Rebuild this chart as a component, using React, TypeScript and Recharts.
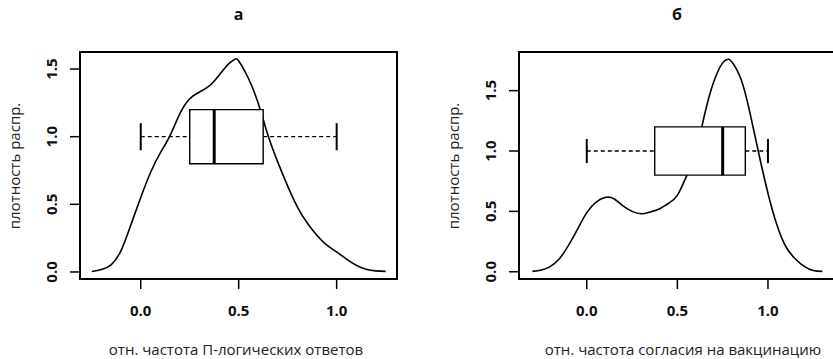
import React from 'react';
import { LineChart, Line, XAxis, YAxis, ReferenceArea, ReferenceLine } from 'recharts';

// ---- data ----
const leftX = [-0.25, -0.2, -0.15, -0.1, -0.05, 0, 0.05, 0.1, 0.15, 0.2, 0.25, 0.3, 0.35, 0.4, 0.45, 0.48, 0.5, 0.55, 0.6, 0.65, 0.7, 0.75, 0.8, 0.85, 0.9, 0.95, 1.0, 1.05, 1.1, 1.15, 1.2, 1.25];
const leftDensity = [0.004, 0.018, 0.055, 0.16, 0.35, 0.55, 0.735, 0.88, 1.01, 1.17, 1.28, 1.33, 1.375, 1.455, 1.54, 1.572, 1.56, 1.43, 1.245, 1.008, 0.81, 0.635, 0.48, 0.362, 0.27, 0.198, 0.148, 0.095, 0.05, 0.02, 0.008, 0.004];

const rightX = [-0.3, -0.25, -0.2, -0.15, -0.1, -0.05, 0, 0.05, 0.1, 0.15, 0.2, 0.25, 0.3, 0.35, 0.4, 0.45, 0.5, 0.55, 0.6, 0.65, 0.7, 0.75, 0.78, 0.8, 0.85, 0.9, 0.95, 1.0, 1.05, 1.1, 1.15, 1.2, 1.25, 1.3];
const rightDensity = [0.003, 0.015, 0.045, 0.11, 0.22, 0.355, 0.49, 0.575, 0.615, 0.605, 0.545, 0.5, 0.48, 0.495, 0.52, 0.565, 0.633, 0.79, 0.98, 1.3, 1.57, 1.73, 1.76, 1.74, 1.6, 1.32, 0.975, 0.65, 0.385, 0.205, 0.108, 0.045, 0.011, 0.003];

// boxplot stats: [min, q1, median, q3, max]
const leftBoxStats = [0, 0.25, 0.375, 0.625, 1];
const rightBoxStats = [0, 0.375, 0.75, 0.875, 1];

const xTicks = [0, 0.5, 1];
const yTicks = [0, 0.5, 1, 1.5];
const xTickLabels = ['0.0', '0.5', '1.0'];
const yTickLabels = ['0.0', '0.5', '1.0', '1.5'];

const titles = ['а', 'б'];
const xTitles = ['отн. частота П-логических ответов', 'отн. частота согласия на вакцинацию'];
const yTitle = 'плотность распр.';

const FONT = '"Open Sans", "Noto Sans", sans-serif';

const fmtX = (v: number) => xTickLabels[xTicks.indexOf(v)] ?? String(v);
const fmtY = (v: number) => yTickLabels[yTicks.indexOf(v)] ?? String(v);

const XTick = (props: any) => {
  const { x, y, payload } = props;
  return (
    <text x={x} y={y} dy={19} textAnchor="middle" dominantBaseline="central"
      fontFamily={FONT} fontWeight={700} fontSize={15} fill="#111">
      {fmtX(payload.value)}
    </text>
  );
};

const YTick = (props: any) => {
  const { x, y, payload } = props;
  const cx = x - 16.5;
  return (
    <text x={cx} y={y} textAnchor="middle" dominantBaseline="central"
      transform={`rotate(-90 ${cx} ${y})`}
      fontFamily={FONT} fontWeight={700} fontSize={15} fill="#111">
      {fmtY(payload.value)}
    </text>
  );
};

type PanelProps = {
  xs: number[];
  ds: number[];
  box: number[];
  xDomain: [number, number];
  yDomain: [number, number];
  left: number;
  width: number;
  yAxisWidth: number;
  marginRight: number;
  title: string;
  xTitle: string;
  xTitleCenter: number;
};

const PLOT_TOP = 52;
const PLOT_BOTTOM = 279;
const H = 359;

const Panel = (p: PanelProps) => {
  const data = p.xs.map((x, i) => ({ x, d: p.ds[i] }));
  const [mn, q1, med, q3, mx] = p.box;
  const plotLeft = p.left + p.yAxisWidth;
  const plotRight = p.left + p.width - p.marginRight;
  const plotCenter = (plotLeft + Math.min(plotRight, 835)) / 2;
  return (
    <>
      <div style={{ position: 'absolute', left: p.left, top: 0 }}>
        <LineChart width={p.width} height={H} data={data}
          margin={{ top: PLOT_TOP, right: p.marginRight, bottom: 0, left: 0 }}>
          <XAxis dataKey="x" type="number" domain={p.xDomain} ticks={xTicks}
            allowDataOverflow axisLine={false} tickSize={10}
            tickLine={{ stroke: '#000', strokeWidth: 1.5 }} tick={<XTick />}
            height={H - PLOT_BOTTOM} />
          <YAxis type="number" domain={p.yDomain} ticks={yTicks} allowDataOverflow
            axisLine={false} tickSize={10} width={p.yAxisWidth}
            tickLine={{ stroke: '#000', strokeWidth: 1.5 }} tick={<YTick />} />
          <Line dataKey="d" type="natural" stroke="#000" strokeWidth={1.6} dot={false}
            isAnimationActive={false} />
          {/* whiskers */}
          <ReferenceLine segment={[{ x: mn, y: 1 }, { x: q1, y: 1 }]} stroke="#000"
            strokeWidth={1.3} strokeDasharray="4 3" zIndex={1500} />
          <ReferenceLine segment={[{ x: q3, y: 1 }, { x: mx, y: 1 }]} stroke="#000"
            strokeWidth={1.3} strokeDasharray="4 3" zIndex={1500} />
          <ReferenceLine segment={[{ x: mn, y: 0.9 }, { x: mn, y: 1.1 }]} stroke="#000"
            strokeWidth={2} zIndex={1500} />
          <ReferenceLine segment={[{ x: mx, y: 0.9 }, { x: mx, y: 1.1 }]} stroke="#000"
            strokeWidth={2} zIndex={1500} />
          {/* box */}
          <ReferenceArea x1={q1} x2={q3} y1={0.8} y2={1.2} fill="#fff" fillOpacity={1}
            stroke="#000" strokeWidth={1.4} zIndex={1600} />
          <ReferenceLine segment={[{ x: med, y: 0.8 }, { x: med, y: 1.2 }]} stroke="#000"
            strokeWidth={3} zIndex={1700} />
          {/* frame */}
          <ReferenceArea x1={p.xDomain[0]} x2={p.xDomain[1]} y1={p.yDomain[0]} y2={p.yDomain[1]}
            fill="none" fillOpacity={0} stroke="#000" strokeWidth={2} zIndex={1800} />
        </LineChart>
      </div>
      <div style={{ position: 'absolute', left: plotCenter - 50, width: 100, top: 3,
        textAlign: 'center', fontFamily: FONT, fontWeight: 700, fontSize: 16, lineHeight: '22px', color: '#111' }}>
        {p.title}
      </div>
      <div style={{ position: 'absolute', left: p.xTitleCenter - 200, width: 400, top: 338,
        textAlign: 'center', fontFamily: FONT, fontSize: 15, lineHeight: '22px', color: '#222', whiteSpace: 'nowrap' }}>
        {p.xTitle}
      </div>
      <div style={{ position: 'absolute', left: plotLeft - 66 - 100, width: 200, top: 154.5,
        textAlign: 'center', fontFamily: FONT, fontSize: 15, lineHeight: '22px', color: '#222',
        transform: 'rotate(-90deg)', whiteSpace: 'nowrap' }}>
        {yTitle}
      </div>
    </>
  );
};

export default function App() {
  return (
    <div style={{ position: 'absolute', left: 0, top: 0, width: 833, height: 359, overflow: 'hidden', background: '#fff' }}>
      <Panel xs={leftX} ds={leftDensity} box={leftBoxStats}
        xDomain={[-0.31, 1.308]} yDomain={[-0.052, 1.626]}
        left={0} width={407} yAxisWidth={80} marginRight={10}
        title={titles[0]} xTitle={xTitles[0]} xTitleCenter={236} />
      <Panel xs={rightX} ds={rightDensity} box={rightBoxStats}
        xDomain={[-0.374, 1.37]} yDomain={[-0.06, 1.82]}
        left={420} width={420} yAxisWidth={99} marginRight={5}
        title={titles[1]} xTitle={xTitles[1]} xTitleCenter={683} />
    </div>
  );
}
